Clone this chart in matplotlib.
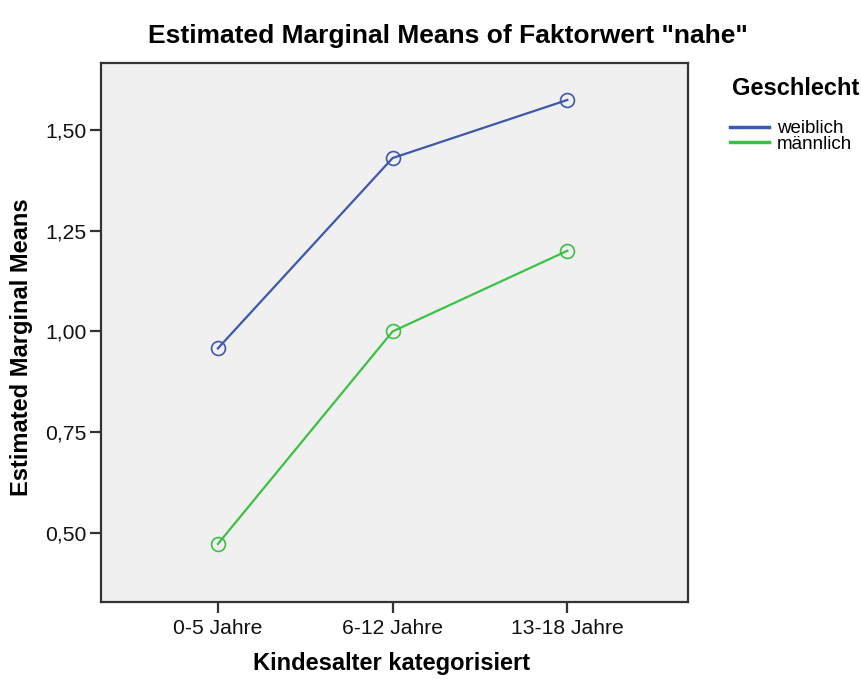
import matplotlib
matplotlib.use("Agg")
import matplotlib.pyplot as plt
from matplotlib.ticker import FuncFormatter

categories = ["0-5 Jahre", "6-12 Jahre", "13-18 Jahre"]
weiblich = [0.958, 1.430, 1.574]
maennlich = [0.473, 1.000, 1.200]
yticks = [0.50, 0.75, 1.00, 1.25, 1.50]

plt.rcParams['font.family'] = ["Liberation Sans", "DejaVu Sans"]
bold_kw = dict(fontweight="bold")

fig = plt.figure(figsize=(8.62, 6.79), dpi=100)
ax = fig.add_axes([0.117, 0.1134, 0.681, 0.794])
ax.set_facecolor("#f0f0f0")

x = list(range(len(categories)))
blue = "#3e58ac"
green = "#3cc046"
ax.plot(x, weiblich, color=blue, lw=1.6, marker="o", ms=10, mfc="none", mec=blue, mew=1.2, label="weiblich")
ax.plot(x, maennlich, color=green, lw=1.6, marker="o", ms=10, mfc="none", mec=green, mew=1.2, label="männlich")

ax.set_xlim(-0.67, 2.69)
ax.set_ylim(0.329, 1.666)
ax.set_xticks(x)
ax.set_xticklabels(categories)
ax.set_yticks(yticks)
ax.yaxis.set_major_formatter(FuncFormatter(lambda v, p: f"{v:.2f}".replace(".", ",")))
ax.tick_params(axis="both", direction="out", length=8, width=1.6, color="#333333",
               labelsize=15.2, labelcolor="#111111", pad=2)
ax.tick_params(axis="x", pad=4)
for s in ax.spines.values():
    s.set_color("#333333")
    s.set_linewidth(1.6)

ax.set_xlabel("Kindesalter kategorisiert", fontsize=17, **bold_kw)
ax.xaxis.set_label_coords(0.496, -0.093)
ax.set_ylabel("Estimated Marginal Means", fontsize=17, **bold_kw)
ax.yaxis.set_label_coords(-0.116, 0.473)
fig.text(0.52, 0.947, 'Estimated Marginal Means of Faktorwert "nahe"', ha="center", va="center",
         fontsize=19, **bold_kw)

fig.text(0.849, 0.870, "Geschlecht", ha="left", va="center", fontsize=17, **bold_kw)
leg = ax.legend(loc="upper left", bbox_to_anchor=(0.847, 0.823), bbox_transform=fig.transFigure,
                frameon=False, fontsize=13.5, handlelength=2.1, handletextpad=0.4,
                labelspacing=-0.1, borderpad=0, borderaxespad=0)
for h in leg.get_lines():
    h.set_marker("")
    h.set_linewidth(2.5)

fig.savefig("out.png", dpi=100)
